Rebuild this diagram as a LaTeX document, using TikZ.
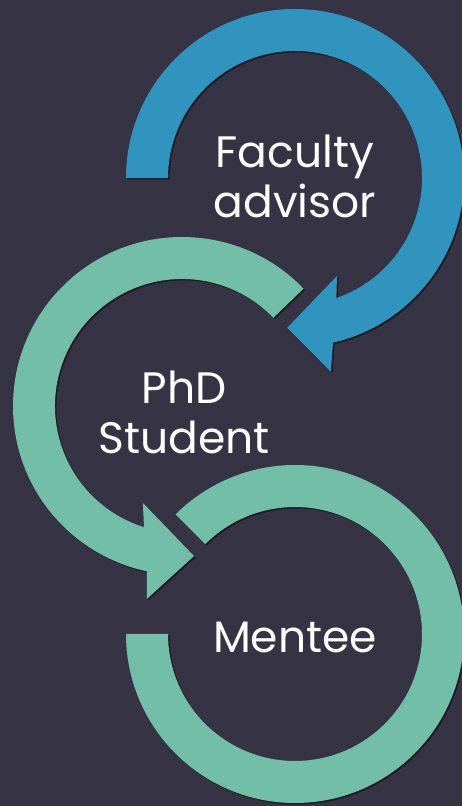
\documentclass[tikz,border=0pt]{standalone}
\usepackage{fontspec}
\setmainfont{Poppins}
\usepackage{tikz}
\usetikzlibrary{calc,shadows}

\definecolor{slate}{RGB}{54,51,68}
\definecolor{advblue}{RGB}{49,148,190}
\definecolor{mintgreen}{RGB}{115,190,168}

\begin{document}
\begin{tikzpicture}[x=1pt, y=1pt,
  band/.style={drop shadow={shadow xshift=1.5pt, shadow yshift=-1.5pt, opacity=.45, fill=black}},
  label/.style={text=white, align=center, inner sep=0pt, font=\fontsize{44}{50}\selectfont}]
\useasboundingbox (0,0) rectangle (462,806);
\fill[slate] (0,0) rectangle (462,806);
\coordinate (fac) at (295,628);
\coordinate (phd) at (182,400);
\coordinate (men) at (295,172);
\begin{scope}[shift={(fac)}]
\fill[advblue, band] (180:169pt) arc[start angle=180, end angle=-77, radius=169pt] -- (-79.5:197pt) -- (-93:150pt) -- (-66.8:106.6pt) -- (-71:127pt) arc[start angle=-71, end angle=180, radius=127pt] -- cycle;
\end{scope}
\begin{scope}[shift={(phd)}]
\fill[mintgreen, band] (44:169pt) arc[start angle=44, end angle=258, radius=169pt] -- (259.7:196pt) -- (274.6:150.5pt) -- (248:104.5pt) -- (252.6:127pt) arc[start angle=252.6, end angle=44, radius=127pt] -- cycle;
\end{scope}
\begin{scope}[shift={(men)}]
\fill[mintgreen, band] (180:169pt) arc[start angle=180, end angle=495, radius=169pt] -- (135:127pt) arc[start angle=135, end angle=-180, radius=127pt] -- cycle;
\end{scope}
\node[label] (faculty) at (295,630) {Faculty\\advisor};
\node[label] (student) at (184,394) {PhD\\Student};
\node[label] (mentee) at (295,169) {Mentee};
\end{tikzpicture}
\end{document}
